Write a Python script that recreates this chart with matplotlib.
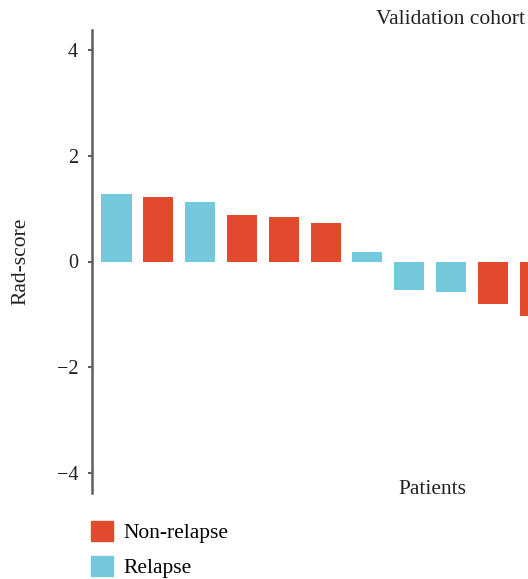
import matplotlib.pyplot as plt
from matplotlib.patches import Patch

# Rad-score per patient, sorted as in the figure (rightmost bar is cut off)
scores = [1.28, 1.22, 1.13, 0.88, 0.84, 0.73, 0.18, -0.54, -0.58, -0.80, -1.03]
groups = ["Relapse", "Non-relapse", "Relapse", "Non-relapse", "Non-relapse",
          "Non-relapse", "Relapse", "Relapse", "Relapse", "Non-relapse", "Non-relapse"]
yticks = [-4, -2, 0, 2, 4]

colors = {"Non-relapse": "#E24A2D", "Relapse": "#73C8DC"}
axis_grey = "#5f5f5f"
txt = "#222222"

plt.rcParams["font.family"] = ["Liberation Serif", "DejaVu Serif"]

fig = plt.figure(figsize=(5.28, 5.79), dpi=100)
ax = fig.add_axes([92 / 528, 1 - 493 / 579, 1 - 92 / 528, (493 - 30) / 579])

x = list(range(len(scores)))
ax.bar(x, scores, width=0.72, color=[colors[g] for g in groups])

ax.set_xlim(-0.586, 9.84)
ax.set_ylim(-4.38, 4.38)
ax.set_yticks(yticks)
ax.set_yticklabels(["\u22124", "\u22122", "0", "2", "4"], fontsize=14.5, color=txt)
ax.set_xticks([])

for s in ["top", "right", "bottom"]:
    ax.spines[s].set_visible(False)
ax.spines["left"].set_color(axis_grey)
ax.spines["left"].set_linewidth(1.8)
ax.tick_params(axis="y", length=3, width=1.5, color=axis_grey, pad=7)

fig.text(21 / 528, 1 - 261 / 579, "Rad-score", rotation=90, ha="center", va="center",
         fontsize=15.5, color=txt)
fig.text(432 / 528, 1 - 489 / 579, "Patients", ha="center", va="center",
         fontsize=15.5, color=txt)
fig.text(376 / 528, 1 - 19 / 579, "Validation cohort", ha="left", va="center",
         fontsize=15.5, color=txt)

handles = [Patch(color=colors["Non-relapse"], label="Non-relapse"),
           Patch(color=colors["Relapse"], label="Relapse")]
fig.legend(handles=handles, loc="upper left", bbox_to_anchor=(91 / 528, 1 - 521 / 579),
           frameon=False, fontsize=15.5, handlelength=1.02, handleheight=1.07,
           handletextpad=0.5, labelspacing=0.58, borderaxespad=0, borderpad=0)

fig.savefig("out.png", dpi=100)
